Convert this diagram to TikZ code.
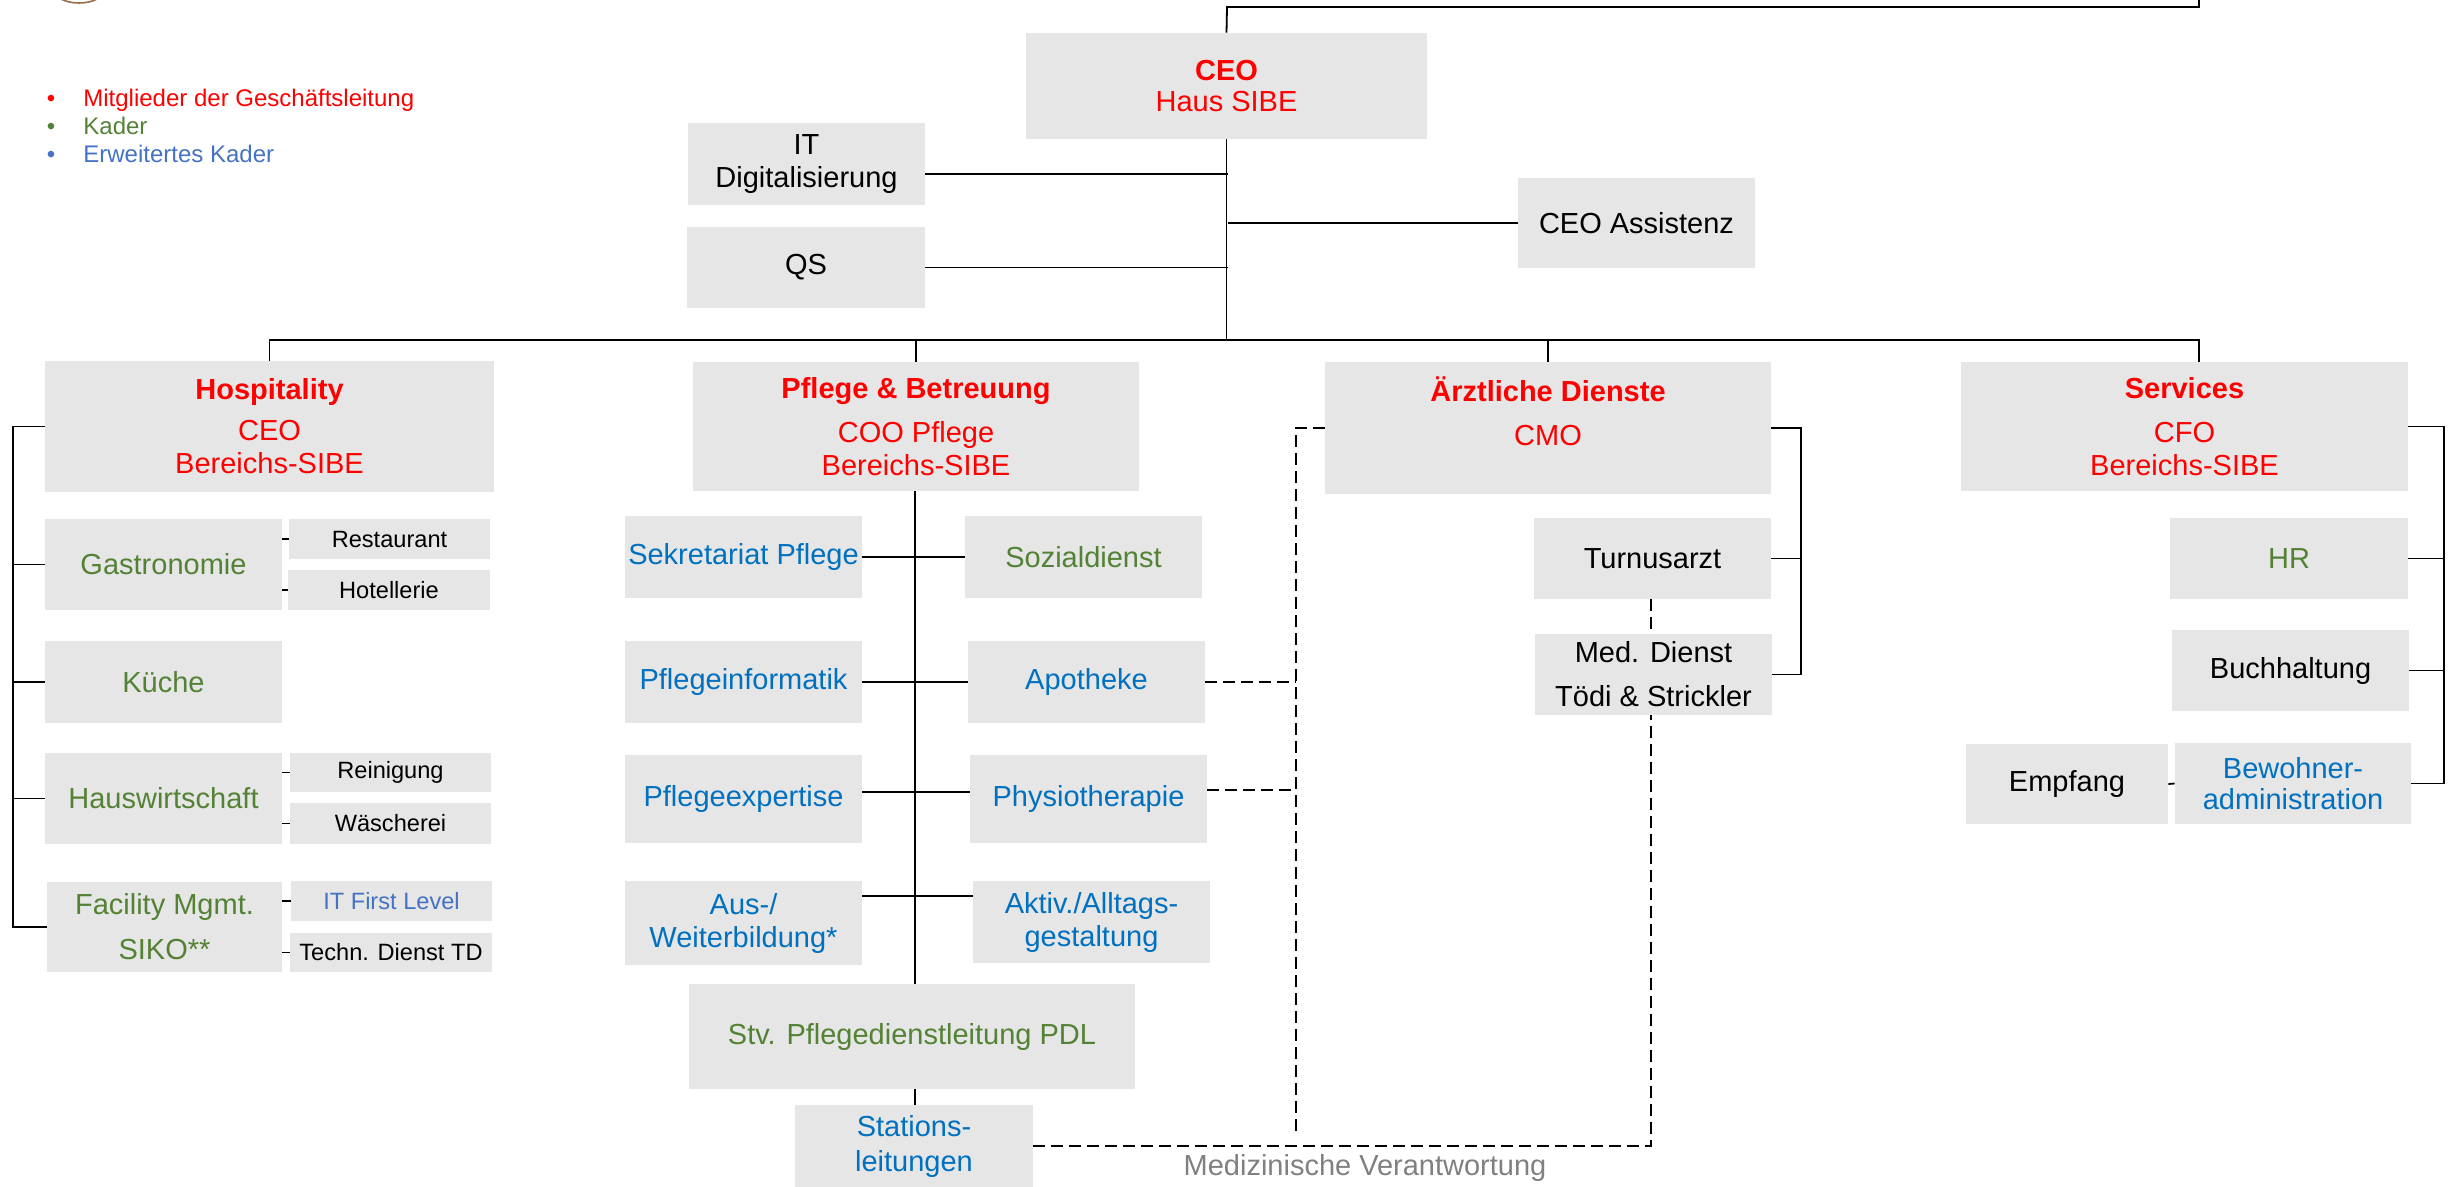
\documentclass[tikz,border=0pt]{standalone}
\usepackage{fontspec}
\setmainfont{Liberation Sans}
\definecolor{boxgray}{RGB}{230,230,230}
\definecolor{gmred}{RGB}{255,0,0}
\definecolor{kgreen}{RGB}{84,130,53}
\definecolor{kblue}{RGB}{0,112,192}
\definecolor{lblue}{RGB}{68,114,196}
\definecolor{lgray}{RGB}{128,128,128}
\definecolor{logobrown}{RGB}{150,110,80}
\newcommand\mainsz{\fontsize{14.5pt}{16.5pt}\selectfont}
\newcommand\smallsz{\fontsize{11.8pt}{14pt}\selectfont}
\newcommand\legsz{\fontsize{12pt}{14pt}\selectfont}
\newcommand\orgbox[7]{\node[#6,minimum width={(#4-#2)*0.5pt},minimum height={(#5-#3)*0.5pt}] (#1) at ({(#2+#4)/2},{(#3+#5)/2}) {#7};}
\tikzset{
  box/.style={fill=boxgray, draw=none, inner sep=0pt, align=center, font=\mainsz},
  smallbox/.style={box, font=\smallsz},
  redt/.style={text=gmred},
  greent/.style={text=kgreen},
  bluet/.style={text=kblue},
  lbluet/.style={text=lblue},
  blackt/.style={text=black},
  conn/.style={draw=black, line width=0.9pt},
  dconn/.style={draw=black, line width=0.9pt, dash pattern=on 6pt off 3pt},
  legend/.style={font=\legsz, inner sep=0pt},
}
\begin{document}
\begin{tikzpicture}[x=0.5pt,y=-0.5pt]
\useasboundingbox (0,0) rectangle (2450,1187);
% logo fragment
\begin{scope}
\clip (0,0) rectangle (2450,1187);
\draw[logobrown, line width=0.8pt] (79,-10) ellipse [x radius=25, y radius=13];
\end{scope}

% legend
\node[legend, anchor=base, text=gmred] (b1) at (51,107) {•};
\node[legend, anchor=base west, text=gmred] (l1) at (83,107) {Mitglieder der Geschäftsleitung};
\node[legend, anchor=base, text=kgreen] (b2) at (51,135) {•};
\node[legend, anchor=base west, text=kgreen] (l2) at (83,135) {Kader};
\node[legend, anchor=base, text=lblue] (b3) at (51,163) {•};
\node[legend, anchor=base west, text=lblue] (l3) at (83,163) {Erweitertes Kader};

% top level
\orgbox{ceo}{1026}{33}{1427}{139}{box,redt}{{\bfseries CEO}\\[-1pt]Haus SIBE}
\orgbox{it}{688}{123}{925}{205}{box,blackt}{IT\\Digitalisierung}
\orgbox{qs}{687}{227}{925}{308}{box,blackt}{QS}
\orgbox{assist}{1518}{178}{1755}{268}{box,blackt}{CEO Assistenz}

% Hospitality
\orgbox{hosp}{45}{361}{494}{492}{box,redt}{{\bfseries Hospitality}\\[4pt]CEO\\Bereichs-SIBE}
\orgbox{gastro}{45}{519}{282}{610}{box,greent}{Gastronomie}
\orgbox{rest}{289}{519}{490}{559}{smallbox,blackt}{Restaurant}
\orgbox{hotel}{288}{570}{490}{610}{smallbox,blackt}{Hotellerie}
\orgbox{kueche}{45}{641}{282}{723}{box,greent}{Küche}
\orgbox{hausw}{45}{753}{282}{844}{box,greent}{Hauswirtschaft}
\orgbox{rein}{290}{753}{491}{792}{smallbox,blackt}{Reinigung}
\orgbox{waesch}{290}{803}{491}{844}{smallbox,blackt}{Wäscherei}
\orgbox{fac}{47}{882}{282}{972}{box,greent}{Facility Mgmt.\\[6pt]SIKO**}
\orgbox{itfl}{291}{881}{492}{921}{smallbox,lbluet}{IT First Level}
\orgbox{techn}{290}{933}{492}{972}{smallbox,blackt}{Techn. Dienst TD}

% Pflege
\orgbox{pflege}{693}{362}{1139}{491}{box,redt}{{\bfseries Pflege \& Betreuung}\\[5.5pt]COO Pflege\\Bereichs-SIBE}
\orgbox{sekr}{625}{516}{862}{598}{box,bluet}{Sekretariat Pflege}
\orgbox{sozial}{965}{516}{1202}{598}{box,greent}{Sozialdienst}
\orgbox{pinf}{625}{641}{862}{723}{box,bluet}{Pflegeinformatik}
\orgbox{apo}{968}{641}{1205}{723}{box,bluet}{Apotheke}
\orgbox{pexp}{625}{755}{862}{843}{box,bluet}{Pflegeexpertise}
\orgbox{physio}{970}{755}{1207}{843}{box,bluet}{Physiotherapie}
\orgbox{aus}{625}{881}{862}{965}{box,bluet}{Aus-/\\Weiterbildung*}
\orgbox{aktiv}{973}{881}{1210}{963}{box,bluet}{Aktiv./Alltags-\\gestaltung}
\orgbox{stv}{689}{984}{1135}{1089}{box,greent}{Stv. Pflegedienstleitung PDL}
\orgbox{stat}{795}{1105}{1033}{1187}{box,bluet}{Stations-\\[1pt]leitungen}

% Aerztliche Dienste
\orgbox{aerzt}{1325}{362}{1771}{494}{box,redt}{{\bfseries Ärztliche Dienste}\\[5.5pt]CMO\\\mbox{}}
\orgbox{turnus}{1534}{518}{1771}{599}{box,blackt}{Turnusarzt}
\orgbox{med}{1535}{634}{1772}{715}{box,blackt}{Med. Dienst\\[5.5pt]Tödi \& Strickler}

% Services
\orgbox{serv}{1961}{362}{2408}{491}{box,redt}{{\bfseries Services}\\[5.5pt]CFO\\Bereichs-SIBE}
\orgbox{hr}{2170}{518}{2408}{599}{box,greent}{HR}
\orgbox{buch}{2172}{630}{2409}{711}{box,blackt}{Buchhaltung}
\orgbox{empf}{1966}{744}{2168}{824}{box,blackt}{Empfang}
\orgbox{bew}{2175}{743}{2411}{824}{box,bluet}{Bewohner-\\[-1pt]administration}

\node[font=\mainsz, text=lgray, inner sep=0pt] (mv) at (1365,1168) {Medizinische Verantwortung};

% top connector to off-picture
\coordinate (topL) at (1227,7);
\coordinate (topR) at (2199,0);
\draw[conn] (ceo.north) -- (topL) -| (topR);

% bus
\coordinate (bus) at (1228,340);
\coordinate (busR) at (2199,340);
\draw[conn] (ceo.south) -- (ceo.south |- bus);
\draw[conn] (hosp.north) |- (busR) -- (busR |- serv.north);
\draw[conn] (pflege.north) -- (pflege.north |- bus);
\draw[conn] (aerzt.north) -- (aerzt.north |- bus);

% CEO staff
\coordinate (itj) at (1228,174);
\draw[conn] (it.east |- itj) -- (itj);
\draw[conn] (qs.east) -- (qs.east -| bus);
\draw[conn] (assist.west) -- (assist.west -| bus);

% Hospitality bracket
\coordinate (hbx) at (13,0);
\draw[conn] (hosp.west) -| (hbx |- fac.west) -- (fac.west);
\foreach \n in {gastro,kueche,hausw} \draw[conn] (\n.west) -- (\n.west -| hbx);
\draw[conn] (rest.west) -- (rest.west -| gastro.east);
\draw[conn] (hotel.west) -- (hotel.west -| gastro.east);
\draw[conn] (rein.west) -- (rein.west -| hausw.east);
\draw[conn] (waesch.west) -- (waesch.west -| hausw.east);
\draw[conn] (itfl.west) -- (itfl.west -| fac.east);
\draw[conn] (techn.west) -- (techn.west -| fac.east);

% Pflege spine
\coordinate (spine) at (915,0);
\draw[conn] (spine |- pflege.south) -- (spine |- stv.north);
\draw[conn] (sekr.east) -- (sozial.west);
\draw[conn] (pinf.east) -- (apo.west);
\coordinate (pj3) at (915,792);
\draw[conn] (pexp.east |- pj3) -- (physio.west |- pj3);
\coordinate (pj4) at (915,896);
\draw[conn] (aus.east |- pj4) -- (aktiv.west |- pj4);
\draw[conn] (spine |- stv.south) -- (spine |- stat.north);

% dashed responsibility lines
\coordinate (dvx) at (1296,428);
\coordinate (dvb) at (1296,1132);
\draw[dconn] (aerzt.west) -- (dvx) -- (dvb);
\draw[dconn] (apo.east) -- (apo.east -| dvx);
\coordinate (phj) at (1296,790);
\draw[dconn] (physio.east |- phj) -- (phj);
\coordinate (mvr) at (1651,1146);
\draw[dconn] (stat.east |- mvr) -- (mvr) -- (med.south -| mvr);
\draw[dconn] (turnus.south -| mvr) -- (med.north -| mvr);

% Aerztliche bracket
\coordinate (abx) at (1801,0);
\draw[conn] (aerzt.east) -| (abx |- med.east) -- (med.east);
\draw[conn] (turnus.east) -- (turnus.east -| abx);

% Services bracket
\coordinate (sbx) at (2444,0);
\draw[conn] (serv.east) -| (sbx |- bew.east) -- (bew.east);
\draw[conn] (hr.east) -- (hr.east -| sbx);
\draw[conn] (buch.east) -- (buch.east -| sbx);
\draw[conn] (empf.east) -- (bew.west);
\end{tikzpicture}
\end{document}
